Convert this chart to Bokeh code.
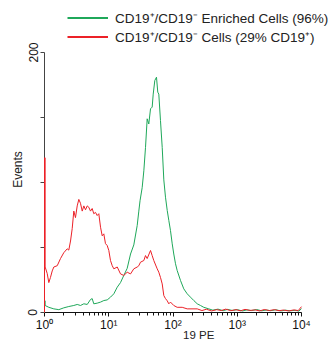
from bokeh.plotting import figure
from bokeh.models import Range1d, FixedTicker, Legend, LegendItem, Label
from bokeh.embed import file_html
from bokeh.resources import INLINE
import math

# ---- data (x in decades of 19 PE intensity, i.e. log10 value; y = events) ----
red_exp = [0.000, 0.000, 0.010, 0.010, 0.042, 0.067, 0.093, 0.120, 0.145, 0.198,
           0.249, 0.300, 0.353, 0.378, 0.405, 0.431, 0.456, 0.482, 0.509, 0.534,
           0.560, 0.587, 0.612, 0.638, 0.665, 0.689, 0.716, 0.742, 0.767, 0.794,
           0.820, 0.845, 0.872, 0.898, 0.923, 0.949, 0.976, 1.001, 1.027, 1.054,
           1.079, 1.132, 1.183, 1.234, 1.287, 1.339, 1.390, 1.443, 1.468, 1.494,
           1.546, 1.572, 1.598, 1.650, 1.676, 1.701, 1.754, 1.779, 1.805, 1.832,
           1.857, 1.883, 1.910, 1.935, 1.961, 2.012, 2.065, 2.143, 2.221, 2.377,
           2.45, 2.52, 2.60, 2.68, 2.75, 2.82, 2.90, 2.98, 3.05, 3.12,
           3.20, 3.28, 3.35, 3.42, 3.50, 3.58, 3.65, 3.72, 3.80, 3.88,
           3.95, 4.00]
red_events = [0, 119, 119, 35, 30, 23, 27, 32, 35, 36,
              41.5, 46, 49, 48, 55, 64.5, 78, 73, 82, 87,
              84, 78, 82, 79, 82, 81, 78, 80, 76, 77,
              74.6, 76, 65.6, 59, 60.5, 53, 51.5, 47.7, 40, 36,
              33.6, 35, 29.7, 28.5, 31, 29.7, 33.6, 35, 36, 38.7,
              40, 43.8, 41.5, 47.7, 43.8, 40, 33.6, 31, 27, 22,
              13, 10.7, 9, 6.7, 8, 5.4, 4, 4, 2.8, 2.8,
              1.5, 2.5, 1.2, 2.2, 1.5, 2.6, 1.4, 2.2, 1.3, 2.4,
              1.6, 2.0, 1.2, 2.3, 1.5, 2.2, 1.4, 1.9, 1.2, 2.0,
              1.5, 4.5]

green_exp = [0.000, 0.000, 0.010, 0.010, 0.067, 0.145, 0.223, 0.300, 0.378, 0.456,
             0.509, 0.560, 0.612, 0.665, 0.716, 0.742, 0.767, 0.820, 0.872, 0.923,
             0.976, 1.027, 1.079, 1.132, 1.183, 1.234, 1.287, 1.339, 1.390, 1.443,
             1.468, 1.487, 1.520, 1.546, 1.572, 1.598, 1.623, 1.650, 1.676, 1.692,
             1.717, 1.743, 1.763, 1.779, 1.805, 1.832, 1.857, 1.883, 1.910, 1.935,
             1.961, 1.988, 2.012, 2.039, 2.065, 2.117, 2.168, 2.221, 2.272, 2.324,
             2.377, 2.428, 2.479, 2.557, 2.62, 2.70, 2.78, 2.85, 2.92, 3.00,
             3.08, 3.15, 3.22, 3.30, 3.38, 3.45, 3.52, 3.60, 3.68, 3.75,
             3.82, 3.90, 3.96, 4.00]
green_events = [0, 9, 9, 5.4, 4, 2.8, 2.2, 3.6, 4.6, 5.4,
                6.2, 5.4, 6.7, 6.2, 10, 10.7, 6.7, 7.2, 8, 9.2,
                9.7, 11.8, 14.4, 19.5, 23, 28.5, 34, 45, 52, 67,
                78, 86, 96, 109, 127, 149, 145, 156.7, 158, 168,
                178.5, 181, 169.5, 168, 147.7, 127, 102, 88.7, 78.5, 70.8,
                63, 52.8, 45, 37.5, 32.3, 24.6, 18.2, 14.4, 11.8, 9.2,
                6.7, 5.4, 4, 2.8, 1.8, 2.6, 1.4, 2.4, 1.6, 2.2,
                1.2, 2.0, 1.5, 2.3, 1.3, 1.9, 1.4, 2.1, 1.2, 1.8,
                1.3, 1.7, 1.1, 3]

x_ticks = [0, 1, 2, 3, 4]
x_tick_labels = ["10\u2070", "10\u00b9", "10\u00b2", "10\u00b3", "10\u2074"]
y_ticks = [0, 50, 100, 150, 200]
y_tick_labels = ["0", "", "", "", "200"]
series_names = ["CD19\u207a/CD19\u207b Enriched Cells (96%)",
                "CD19\u207a/CD19\u207b Cells (29% CD19\u207a)"]
x_title = "19 PE"
y_title = "Events"

GREEN = "#1fa85a"
RED = "#ec2128"
FONT = "Liberation Sans"

# axes cover [0, 4] decades and [0, 200] events; the extra range holds labels and legend
p = figure(width=331, height=341, output_backend="svg", toolbar_location=None,
           x_range=Range1d(-0.685, 4.467), y_range=Range1d(-22.3, 240),
           min_border_left=0, min_border_right=0, min_border_top=0, min_border_bottom=0)
p.outline_line_color = None
p.grid.grid_line_color = None

p.line(green_exp, green_events, line_color=GREEN, line_width=1, level="overlay")
p.line(red_exp, red_events, line_color=RED, line_width=1, level="overlay")

nan = float("nan")
lg = p.line([nan], [nan], line_color=GREEN, line_width=2)
lr = p.line([nan], [nan], line_color=RED, line_width=2)
legend = Legend(items=[LegendItem(label=series_names[0], renderers=[lg]),
                       LegendItem(label=series_names[1], renderers=[lr])],
                location=(67, 295), orientation="vertical",
                glyph_width=41, glyph_height=19, label_height=19, spacing=0,
                label_standoff=7, padding=0, margin=0,
                border_line_alpha=0, background_fill_alpha=0,
                label_text_font=FONT, label_text_font_size="13.5px",
                label_text_color="#222222")
p.add_layout(legend, "center")

minor = [n + math.log10(k) for n in range(4) for k in range(2, 10)]
xa = p.xaxis[0]
xa.fixed_location = 0
xa.bounds = (0, 4)
xa.ticker = FixedTicker(ticks=x_ticks, minor_ticks=minor)
xa.major_label_overrides = {t: l for t, l in zip(x_ticks, x_tick_labels)}
xa.major_label_text_font = FONT
xa.major_label_text_font_size = "12px"
xa.major_label_text_color = "#111111"
xa.major_label_standoff = 1
xa.major_tick_in = 0
xa.major_tick_out = 4
xa.minor_tick_in = 0
xa.minor_tick_out = 3
xa.axis_line_color = "#111111"
xa.major_tick_line_color = "#111111"
xa.minor_tick_line_color = "#111111"

ya = p.yaxis[0]
ya.fixed_location = 0
ya.bounds = (0, 200)
ya.ticker = FixedTicker(ticks=y_ticks, minor_ticks=[])
ya.major_label_overrides = {t: l for t, l in zip(y_ticks, y_tick_labels)}
ya.major_label_orientation = "vertical"
ya.major_label_text_font = FONT
ya.major_label_text_font_size = "12px"
ya.major_label_text_color = "#111111"
ya.major_label_standoff = 3
ya.major_tick_in = 0
ya.major_tick_out = 4
ya.axis_line_color = "#444444"
ya.major_tick_line_color = "#444444"

p.add_layout(Label(x=-0.405, y=110, text=y_title, angle=math.pi / 2,
                   text_align="center", text_baseline="middle",
                   text_font=FONT, text_font_size="12px", text_color="#222222"))
p.add_layout(Label(x=2.40, y=-12.5, text=x_title, text_align="center", text_baseline="top",
                   text_font=FONT, text_font_size="11.5px", text_color="#222222"))

open("out.html", "w").write(file_html(p, INLINE))
